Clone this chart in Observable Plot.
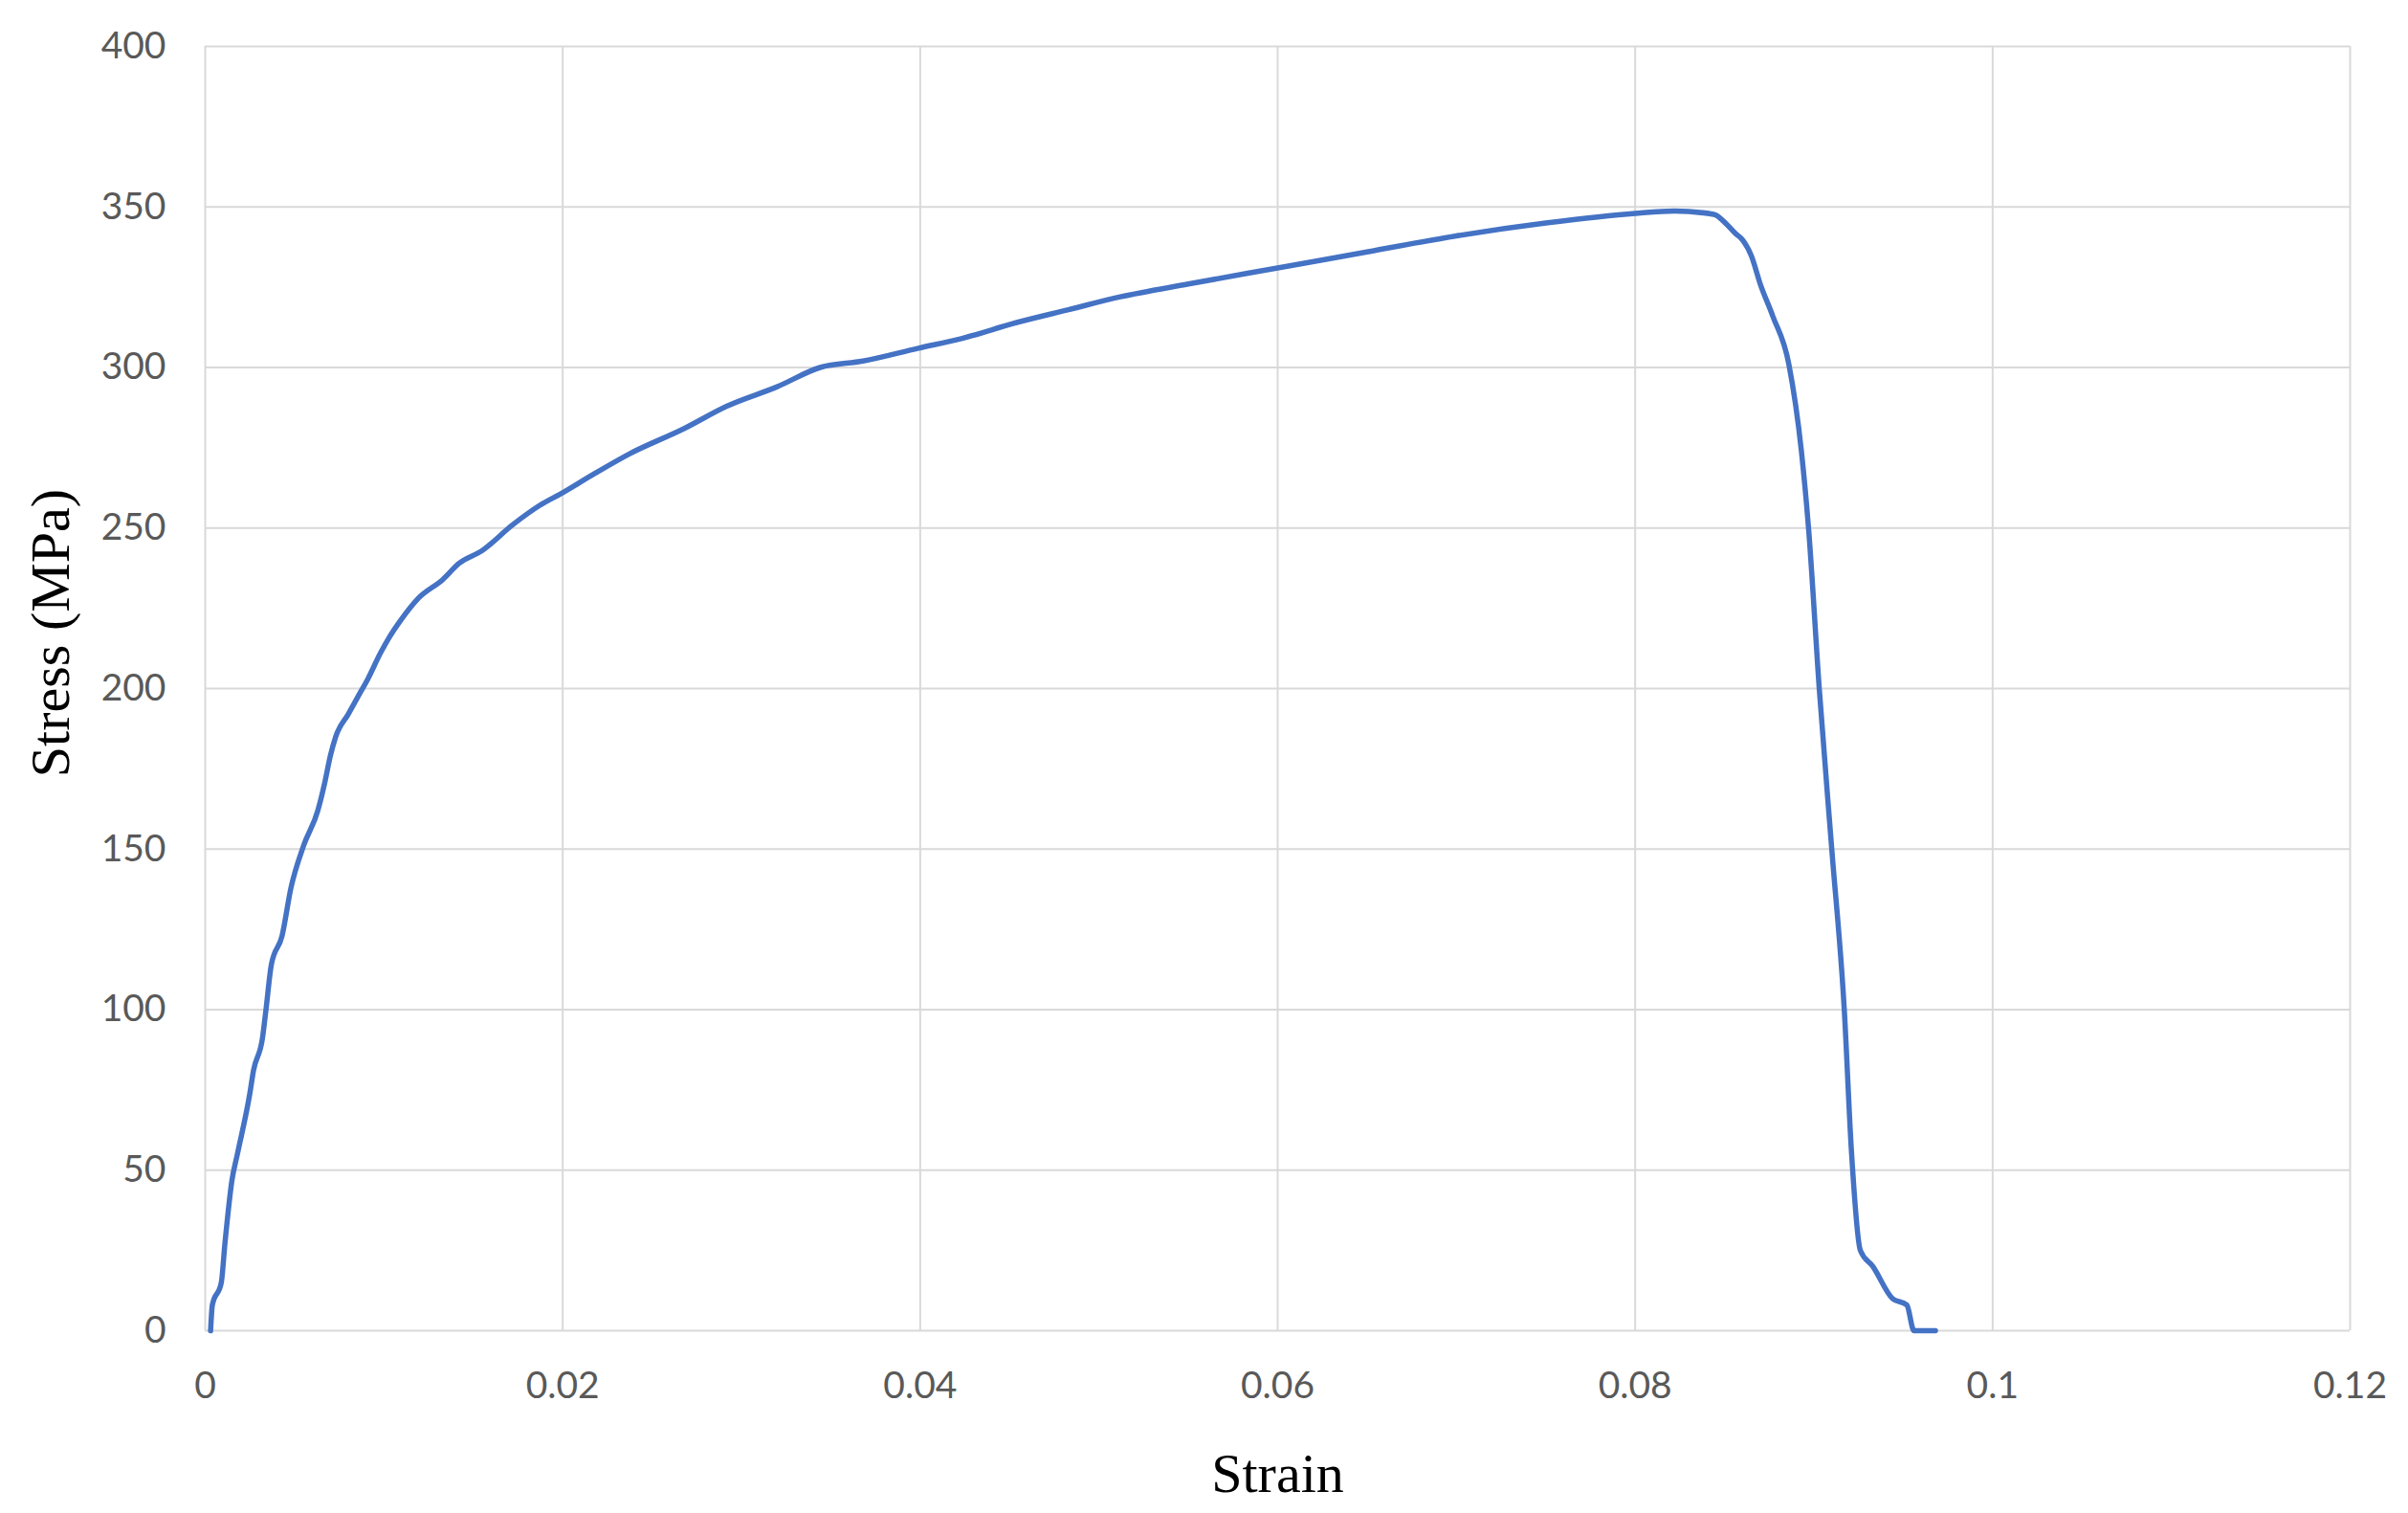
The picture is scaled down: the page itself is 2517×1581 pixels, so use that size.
<!DOCTYPE html>
<html>
<head>
<meta charset="utf-8">
<script src="https://cdn.jsdelivr.net/npm/d3@7"></script>
<script src="https://cdn.jsdelivr.net/npm/@observablehq/plot@0.6"></script>
<style>
  html, body { margin: 0; padding: 0; background: #ffffff; }
  #chart { width: 2517px; height: 1581px; }
</style>
</head>
<body>
<div id="chart"></div>
<script>
const strain = [
  0.0003, 0.0004, 0.0009, 0.0011, 0.0015, 0.0018, 0.0025, 0.0027, 0.0032, 0.0034,
  0.0037, 0.0043, 0.0048, 0.0055, 0.0063, 0.0067, 0.0070, 0.0073, 0.0080, 0.0086,
  0.0091, 0.0098, 0.0103, 0.0109, 0.0119, 0.0133, 0.0142, 0.0155, 0.0172, 0.0187,
  0.0200, 0.0218, 0.0237, 0.0268, 0.0292, 0.0320, 0.0344, 0.0368, 0.0399, 0.0423,
  0.0454, 0.0483, 0.0512, 0.0550, 0.0600, 0.0650, 0.0700, 0.0750, 0.0800, 0.0822,
  0.0844, 0.0851, 0.0856, 0.0860, 0.0865, 0.0870, 0.0877, 0.0886, 0.0893, 0.0897,
  0.0903, 0.0910, 0.0917, 0.0921, 0.0926, 0.0933, 0.0944, 0.0952, 0.0956, 0.0968
];
const stress = [
  0, 8, 15, 27, 47, 55, 74, 81, 91, 100,
  114, 123, 138, 151, 162, 171, 179, 185, 192, 198,
  203, 211, 216, 221, 228, 234, 239, 243, 251, 257,
  261, 267, 273, 281, 288, 294, 300, 302, 306, 309,
  314, 318, 322, 326, 331, 336, 341, 345, 348, 348.7,
  347.7, 344.7, 341.8, 339.8, 334.8, 326, 316, 301, 274, 250,
  200, 150, 100, 56, 25, 20, 10, 8, 0, 0
];
const xTicks = [0, 0.02, 0.04, 0.06, 0.08, 0.1, 0.12];
const yTicks = [0, 50, 100, 150, 200, 250, 300, 350, 400];
const xTitle = "Strain";
const yTitle = "Stress (MPa)";

const data = strain.map((s, i) => ({strain: s, stress: stress[i]}));

const tickFont = "Lato, 'Open Sans', sans-serif";
const titleFont = "'Liberation Serif', 'DejaVu Serif', serif";

const chart = Plot.plot({
  width: 2517,
  height: 1581,
  marginLeft: 214,
  marginRight: 61,
  marginTop: 48,
  marginBottom: 191,
  style: {background: "#ffffff", fontFamily: tickFont, overflow: "visible"},
  x: {domain: [0, 0.12], ticks: xTicks},
  y: {domain: [0, 400], ticks: yTicks},
  marks: [
    Plot.gridX(xTicks, {stroke: "#d9d9d9", strokeOpacity: 1, strokeWidth: 2}),
    Plot.gridY(yTicks, {stroke: "#d9d9d9", strokeOpacity: 1, strokeWidth: 2}),
    Plot.axisX(xTicks, {
      tickSize: 0, tickPadding: 43, fontSize: 39, fill: "#595959",
      tickFormat: d => String(d), label: null
    }),
    Plot.axisY(yTicks, {
      tickSize: 0, tickPadding: 41, fontSize: 39, fill: "#595959",
      tickFormat: d => String(d), label: null
    }),
    Plot.line(data, {
      x: "strain", y: "stress", stroke: "#4472c4", strokeWidth: 5.5,
      curve: "monotone-x", strokeLinejoin: "round", strokeLinecap: "round"
    }),
    Plot.text([xTitle], {
      frameAnchor: "bottom", dy: 168, fontSize: 58, fontFamily: titleFont,
      fill: "#000000", textAnchor: "middle"
    }),
    Plot.text([yTitle], {
      frameAnchor: "left", dx: -161, dy: -58, rotate: -90, fontSize: 58,
      fontFamily: titleFont, fill: "#000000", textAnchor: "middle"
    })
  ]
});

document.getElementById("chart").appendChild(chart);
</script>
</body>
</html>
